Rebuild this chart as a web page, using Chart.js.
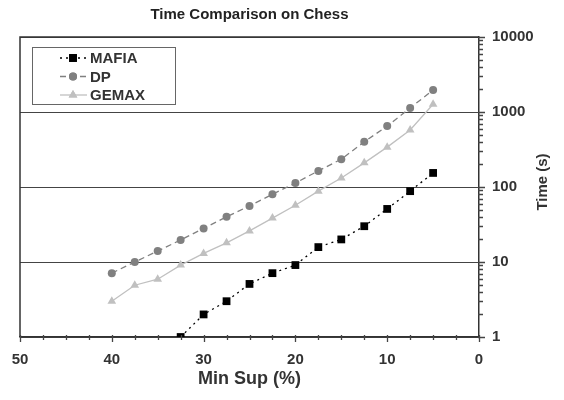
<!DOCTYPE html>
<html>
<head>
<meta charset="utf-8">
<script src="https://cdn.jsdelivr.net/npm/chart.js@4.4.1/dist/chart.umd.min.js"></script>
<style>
  html, body { margin: 0; padding: 0; background: #fff; }
</style>
</head>
<body>
<canvas id="chart" width="564" height="400"></canvas>
<script>
// ---- data ----
const minSup = [40, 37.5, 35, 32.5, 30, 27.5, 25, 22.5, 20, 17.5, 15, 12.5, 10, 7.5, 5];
const mafia  = [null, null, null, 1, 2, 3, 5.1, 7.1, 9.1, 15.8, 20, 30, 51, 88, 154];
const dp     = [7.1, 10, 14, 19.7, 28, 40, 56, 80, 113, 164, 235, 400, 650, 1130, 1970];
const gemax  = [3, 4.9, 5.9, 9.1, 13, 18, 26, 38.5, 57, 88, 132, 210, 340, 575, 1270];
const yTicks = [1, 10, 100, 1000, 10000];
const xTicks = [0, 10, 20, 30, 40, 50];

const FONT = '"Liberation Sans", Arial, sans-serif';
const toPoints = arr => minSup.map((x, i) => ({ x: x, y: arr[i] })).filter(p => p.y != null);

const series = [
  { label: 'MAFIA', data: toPoints(mafia), color: '#000', dash: [2, 4], style: 'rect', radius: 5.5, width: 1.3 },
  { label: 'DP', data: toPoints(dp), color: '#808080', dash: [6, 4], style: 'circle', radius: 4, width: 1.3 },
  { label: 'GEMAX', data: toPoints(gemax), color: '#c0c0c0', dash: [], style: 'triangle', radius: 5, width: 1.3 }
];

/* extra drawing: frame, tick marks, titles, legend box */
const extras = {
  id: 'extras',
  afterDraw(chart) {
    const { ctx, chartArea: a, scales: { x, y } } = chart;
    ctx.save();

    // frame top + left
    ctx.strokeStyle = '#333';
    ctx.lineWidth = 1.5;
    ctx.beginPath();
    ctx.moveTo(a.left, a.bottom);
    ctx.lineTo(a.left, a.top);
    ctx.lineTo(a.right, a.top);
    ctx.stroke();

    // x tick marks every 2.5
    ctx.strokeStyle = '#444';
    ctx.lineWidth = 1.3;
    ctx.beginPath();
    for (let v = 0; v <= 50; v += 2.5) {
      const px = Math.round(x.getPixelForValue(v)) + 0.5;
      ctx.moveTo(px, a.bottom - 2);
      ctx.lineTo(px, a.bottom + (v % 10 === 0 ? 5 : 3));
    }
    ctx.stroke();

    // y minor / major tick marks on the right axis
    ctx.beginPath();
    for (let d = 1; d < 10000; d *= 10) {
      for (let m = 1; m < 10; m++) {
        const py = Math.round(y.getPixelForValue(d * m)) + 0.5;
        ctx.moveTo(a.right - 1, py);
        ctx.lineTo(a.right + (m === 1 ? 6 : 4), py);
      }
    }
    const pyTop = Math.round(y.getPixelForValue(10000)) + 0.5;
    ctx.moveTo(a.right - 1, pyTop);
    ctx.lineTo(a.right + 6, pyTop);
    ctx.stroke();

    // chart title
    ctx.fillStyle = '#222';
    ctx.font = 'bold 15px ' + FONT;
    ctx.textAlign = 'center';
    ctx.textBaseline = 'middle';
    ctx.fillText('Time Comparison on Chess', (a.left + a.right) / 2, 15);

    // y title (right side, reading upward)
    ctx.save();
    ctx.translate(543, 182);
    ctx.rotate(-Math.PI / 2);
    ctx.fillStyle = '#333';
    ctx.font = 'bold 15px ' + FONT;
    ctx.fillText('Time (s)', 0, 0);
    ctx.restore();

    // legend box
    const bx = 32, by = 47, bw = 143, bh = 57;
    ctx.fillStyle = '#fff';
    ctx.fillRect(bx, by, bw, bh);
    ctx.strokeStyle = '#666';
    ctx.lineWidth = 1;
    ctx.strokeRect(bx + 0.5, by + 0.5, bw, bh);
    ctx.font = 'bold 15px ' + FONT;
    ctx.textAlign = 'left';
    series.forEach((s, i) => {
      const ly = 58 + i * 18.5;
      ctx.strokeStyle = s.color;
      ctx.lineWidth = s.width;
      ctx.setLineDash(s.dash);
      ctx.beginPath();
      ctx.moveTo(60, ly);
      ctx.lineTo(87, ly);
      ctx.stroke();
      ctx.setLineDash([]);
      ctx.fillStyle = s.color;
      Chart.helpers.drawPoint(ctx, { pointStyle: s.style, radius: s.radius, borderWidth: 0 }, 73, ly);
      ctx.fill();
      ctx.fillStyle = '#333';
      ctx.fillText(s.label, 90, ly + 1);
    });

    ctx.restore();
  }
};

new Chart(document.getElementById('chart'), {
  type: 'line',
  data: {
    datasets: series.map(s => ({
      label: s.label,
      data: s.data,
      borderColor: s.color,
      backgroundColor: s.color,
      borderDash: s.dash,
      borderWidth: s.width,
      pointStyle: s.style,
      pointRadius: s.radius,
      pointBorderWidth: 0,
      tension: 0,
      fill: false
    })).reverse()
  },
  options: {
    responsive: false,
    animation: false,
    layout: { padding: { top: 37, left: 20, right: 0, bottom: 0 } },
    plugins: {
      legend: { display: false },
      tooltip: { enabled: false }
    },
    scales: {
      x: {
        type: 'linear',
        reverse: true,
        min: 0,
        max: 50,
        afterBuildTicks: s => { s.ticks = xTicks.map(v => ({ value: v })); },
        afterFit: s => { s.height = 63; },
        grid: { display: false, drawTicks: false },
        border: { display: true, color: '#333', width: 1.5 },
        ticks: {
          color: '#333',
          padding: 14,
          maxRotation: 0,
          font: { family: FONT, size: 15, weight: 'bold' }
        },
        title: {
          display: true,
          text: 'Min Sup (%)',
          color: '#333',
          padding: { top: 0, bottom: 10 },
          font: { family: FONT, size: 18, weight: 'bold' }
        }
      },
      y: {
        type: 'logarithmic',
        position: 'right',
        min: 1,
        max: 10000,
        afterBuildTicks: s => { s.ticks = yTicks.map(v => ({ value: v })); },
        afterFit: s => { s.width = 85; },
        grid: { color: '#444', lineWidth: 1, drawTicks: false },
        border: { display: true, color: '#333', width: 1.5 },
        ticks: {
          color: '#333',
          padding: 13,
          font: { family: FONT, size: 15, weight: 'bold' },
          callback: v => String(v)
        }
      }
    }
  },
  plugins: [extras]
});
</script>
</body>
</html>
